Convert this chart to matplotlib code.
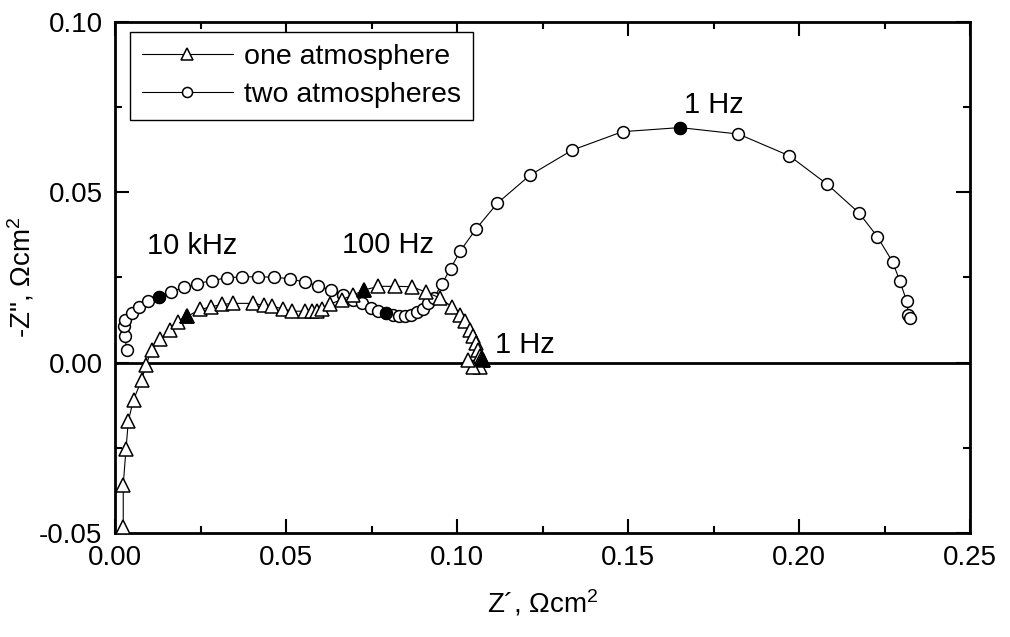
import matplotlib
matplotlib.use('Agg')
import matplotlib.pyplot as plt
from matplotlib.ticker import MultipleLocator, FormatStrFormatter

# one atmosphere (triangles), high -> low frequency
one_x = [0.0024, 0.0024, 0.0032, 0.0039, 0.0054, 0.0078, 0.0091, 0.0107, 0.0132,
         0.0161, 0.0185, 0.0211, 0.0249, 0.0281, 0.0313, 0.0346, 0.0404, 0.0436,
         0.0458, 0.0490, 0.0517, 0.0556, 0.0575, 0.0590, 0.0605, 0.0629, 0.0663,
         0.0695, 0.0728, 0.0770, 0.0819, 0.0868, 0.0909, 0.0950, 0.0985, 0.1009,
         0.1023, 0.1038, 0.1048, 0.1056, 0.1062, 0.1067, 0.1070, 0.1074, 0.1076,
         0.1067, 0.1047, 0.1032]
one_y = [-0.0481, -0.0359, -0.0254, -0.0170, -0.0109, -0.0050, -0.0006, 0.0038, 0.0068,
         0.0095, 0.0120, 0.0136, 0.0156, 0.0164, 0.0171, 0.0174, 0.0174, 0.0168,
         0.0166, 0.0158, 0.0151, 0.0151, 0.0152, 0.0153, 0.0158, 0.0172, 0.0185,
         0.0198, 0.0213, 0.0224, 0.0224, 0.0223, 0.0207, 0.0190, 0.0164, 0.0141,
         0.0121, 0.0097, 0.0077, 0.0058, 0.0038, 0.0019, 0.0012, 0.0009, 0.0009,
         -0.0012, -0.0012, 0.0009]
one_marked = [11, 28, 44]  # 10 kHz, 100 Hz, 1 Hz

# two atmospheres (circles), high -> low frequency
two_x = [0.0034, 0.0029, 0.0026, 0.0029, 0.0049, 0.0071, 0.0097, 0.0129, 0.0163,
         0.0202, 0.0241, 0.0283, 0.0327, 0.0372, 0.0419, 0.0465, 0.0512, 0.0556,
         0.0594, 0.0631, 0.0666, 0.0697, 0.0723, 0.0748, 0.0770, 0.0791, 0.0814,
         0.0831, 0.0848, 0.0865, 0.0882, 0.0900, 0.0916, 0.0933, 0.0955, 0.0981,
         0.1009, 0.1056, 0.1118, 0.1213, 0.1337, 0.1484, 0.1652, 0.1823, 0.1972,
         0.2082, 0.2175, 0.2229, 0.2274, 0.2295, 0.2315, 0.2320, 0.2325]
two_y = [0.0038, 0.0077, 0.0109, 0.0124, 0.0146, 0.0164, 0.0180, 0.0193, 0.0208,
         0.0221, 0.0232, 0.0241, 0.0249, 0.0252, 0.0252, 0.0251, 0.0246, 0.0236,
         0.0226, 0.0213, 0.0198, 0.0185, 0.0174, 0.0161, 0.0153, 0.0146, 0.0141,
         0.0138, 0.0138, 0.0141, 0.0148, 0.0158, 0.0174, 0.0190, 0.0230, 0.0276,
         0.0327, 0.0393, 0.0468, 0.0550, 0.0624, 0.0678, 0.0690, 0.0671, 0.0607,
         0.0524, 0.0440, 0.0370, 0.0295, 0.0239, 0.0180, 0.0141, 0.0131]
two_marked = [7, 25, 42]  # 10 kHz, 100 Hz, 1 Hz

labels = ['one atmosphere', 'two atmospheres']
freq_text = ['10 kHz', '100 Hz', '1 Hz', '1 Hz']
freq_x = [0.0225, 0.0798, 0.1750, 0.1199]
freq_y = [0.0341, 0.0344, 0.0756, 0.0053]

plt.rcParams['font.family'] = ['Liberation Sans', 'DejaVu Sans']
plt.rcParams['mathtext.fontset'] = 'custom'
plt.rcParams['mathtext.rm'] = 'Liberation Sans'
plt.rcParams['mathtext.it'] = 'Liberation Sans'

fig = plt.figure(figsize=(10.10, 6.37), dpi=100)
ax = fig.add_axes([0.1139, 0.1633, 0.8465, 0.8022])

ax.axhline(0, color='black', lw=2, zorder=1)

ax.plot(one_x, one_y, '-', color='black', lw=0.8, marker='^', ms=10,
        mfc='white', mec='black', mew=1.1, label=labels[0], zorder=3)
ax.plot(two_x, two_y, '-', color='black', lw=0.8, marker='o', ms=8.5,
        mfc='white', mec='black', mew=1.1, label=labels[1], zorder=2)
ax.plot([one_x[i] for i in one_marked], [one_y[i] for i in one_marked], ls='none',
        marker='^', ms=10, mfc='black', mec='black', mew=1.1, zorder=4)
ax.plot([two_x[i] for i in two_marked], [two_y[i] for i in two_marked], ls='none',
        marker='o', ms=8.5, mfc='black', mec='black', mew=1.1, zorder=4)

for t, x, y in zip(freq_text, freq_x, freq_y):
    ax.text(x, y, t, fontsize=21, ha='center', va='center')

ax.set_xlim(0, 0.25)
ax.set_ylim(-0.05, 0.10)
ax.xaxis.set_major_locator(MultipleLocator(0.05))
ax.xaxis.set_minor_locator(MultipleLocator(0.025))
ax.yaxis.set_major_locator(MultipleLocator(0.05))
ax.yaxis.set_minor_locator(MultipleLocator(0.025))
ax.xaxis.set_major_formatter(FormatStrFormatter('%.2f'))
ax.yaxis.set_major_formatter(FormatStrFormatter('%.2f'))
ax.tick_params(which='both', direction='in', top=True, right=True, width=1.5,
               labelsize=20, pad=9)
ax.tick_params(which='major', length=10)
ax.tick_params(which='minor', length=5)
for s in ax.spines.values():
    s.set_linewidth(2)

ax.set_xlabel('Z\u00b4, \u03a9cm$^2$', fontsize=20, labelpad=12)
ax.set_ylabel('-Z", \u03a9cm$^2$', fontsize=20, labelpad=2)

leg = ax.legend(loc='upper left', bbox_to_anchor=(0.0175, 0.98), borderaxespad=0,
                fontsize=20.5, fancybox=False, edgecolor='black', framealpha=1,
                markerscale=0.85, handlelength=3.2, handletextpad=0.4,
                labelspacing=0.43, borderpad=0.41)
leg.get_frame().set_linewidth(1)

fig.savefig('out.png', dpi=100)
